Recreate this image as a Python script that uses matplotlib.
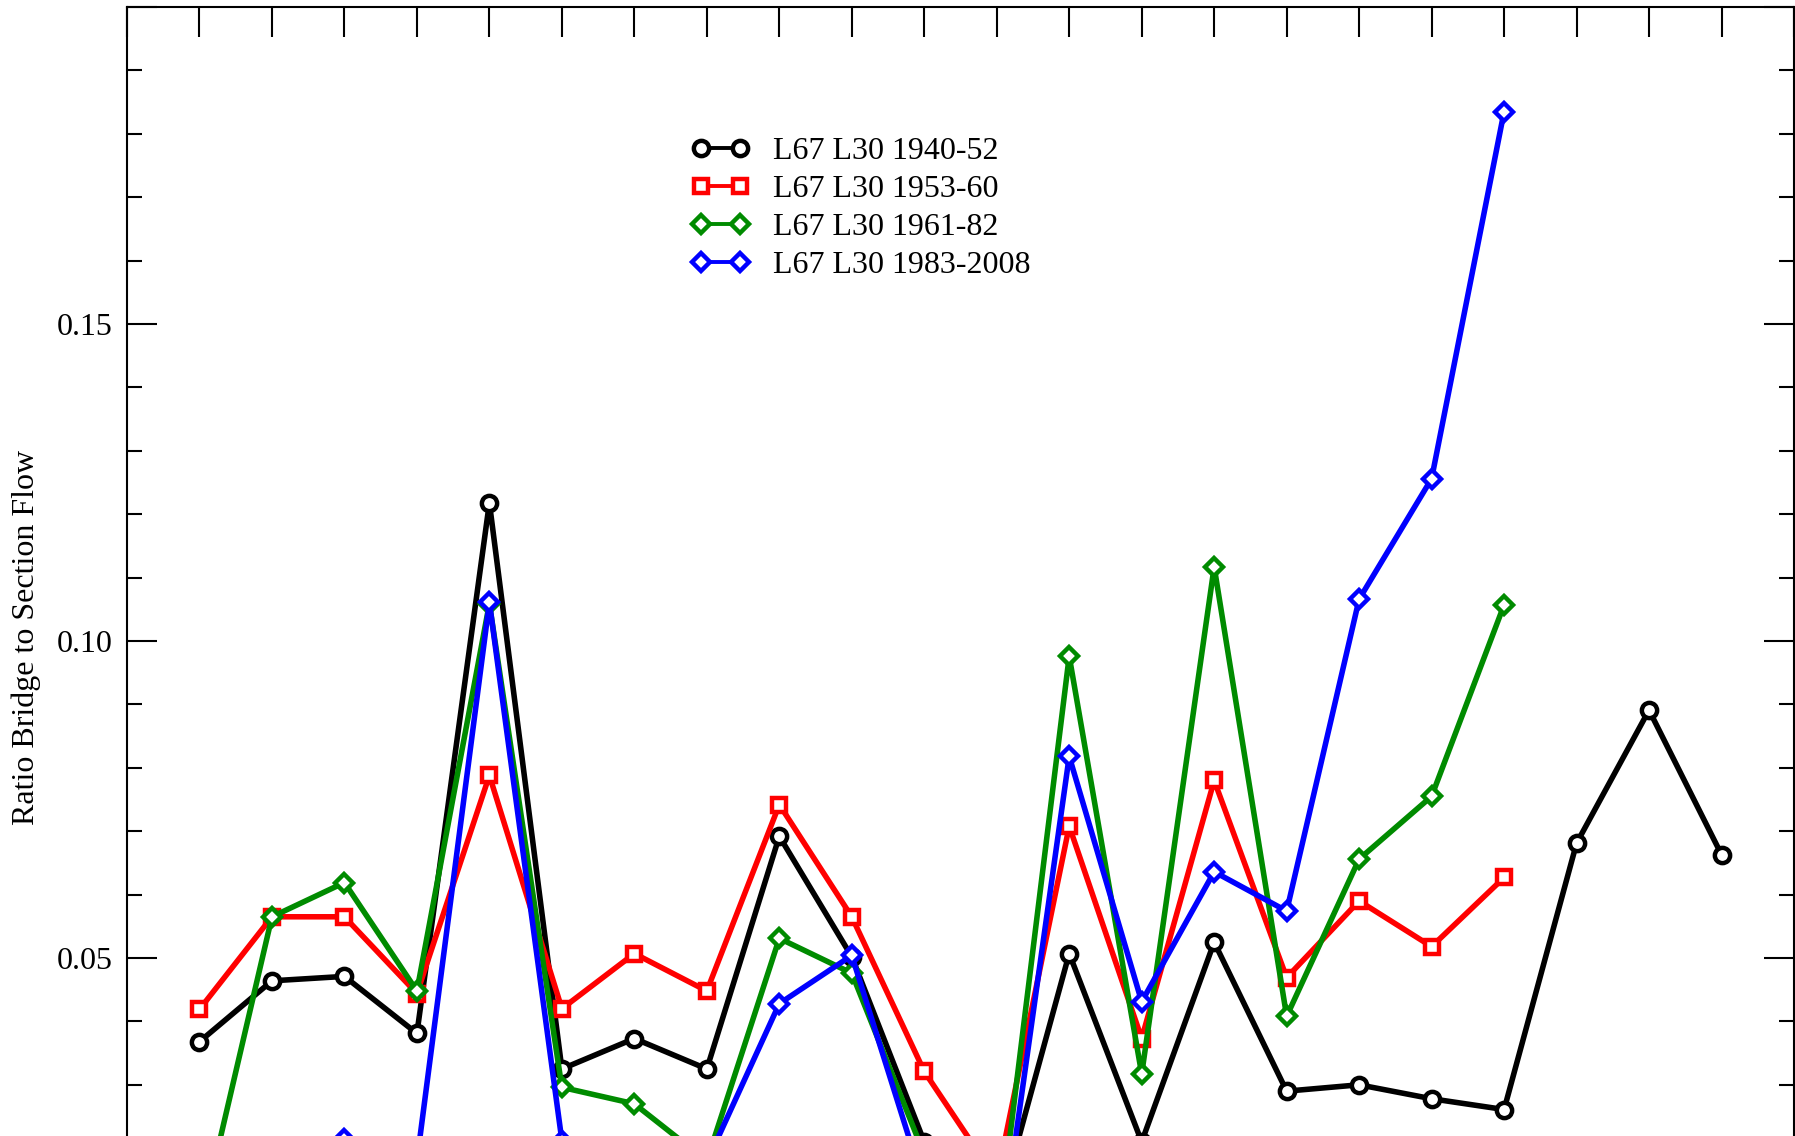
import matplotlib
matplotlib.use("Agg")
import matplotlib.pyplot as plt
from matplotlib.ticker import FixedLocator, MultipleLocator

plt.rcParams["font.family"] = ["Liberation Serif", "DejaVu Serif"]

# values (index = position along x)
x_black = list(range(1, 23))
black_1940_52 = [0.0368, 0.0464, 0.0471, 0.0381, 0.1218, 0.0325, 0.0373, 0.0325,
                 0.0692, 0.0502, 0.0210, 0.0090, 0.0507, 0.0210, 0.0525, 0.0290,
                 0.0300, 0.0278, 0.0261, 0.0681, 0.0891, 0.0663]

x_other = list(range(1, 20))
red_1953_60 = [0.0419, 0.0565, 0.0565, 0.0444, 0.0788, 0.0420, 0.0507, 0.0448,
               0.0742, 0.0565, 0.0321, 0.0150, 0.0708, 0.0373, 0.0780, 0.0469,
               0.0590, 0.0518, 0.0627]
green_1961_82 = [0.0075, 0.0565, 0.0619, 0.0448, 0.1059, 0.0296, 0.0270, 0.0180,
                 0.0531, 0.0476, 0.0190, 0.0050, 0.0976, 0.0317, 0.1117, 0.0408,
                 0.0656, 0.0755, 0.1057]
blue_1983_2008 = [0.0100, 0.0120, 0.0214, 0.0180, 0.1061, 0.0212, 0.0120, 0.0178,
                  0.0428, 0.0504, 0.0140, 0.0005, 0.0818, 0.0431, 0.0636, 0.0574,
                  0.1066, 0.1256, 0.1835]

series_labels = ["L67 L30 1940-52", "L67 L30 1953-60", "L67 L30 1961-82",
                 "L67 L30 1983-2008"]
y_major = [0.0, 0.05, 0.10, 0.15, 0.20]
y_major_labels = ["", "0.05", "0.10", "0.15", ""]

W, H = 1795, 1136
fig = plt.figure(figsize=(W / 100, H / 100), dpi=100)
# the reference is a crop: the axes run below the bottom of the picture
ax = fig.add_axes([127 / W, 1 - 1275 / H, 1667 / W, 1268 / H])

style = dict(lw=4, mew=3.2, mfc="white")
ax.plot(x_black, black_1940_52, color="black", marker="o", ms=11,
        label=series_labels[0], **style)
ax.plot(x_other, red_1953_60, color="#ff0000", marker="s", ms=10.5,
        label=series_labels[1], **style)
ax.plot(x_other, green_1961_82, color="#008b00", marker="D", ms=9,
        label=series_labels[2], **style)
ax.plot(x_other, blue_1983_2008, color="#0000ff", marker="D", ms=9,
        label=series_labels[3], **style)

ax.set_xlim(0, 23)
ax.set_ylim(0, 0.20)
ax.xaxis.set_major_locator(MultipleLocator(1))
ax.yaxis.set_major_locator(FixedLocator(y_major))
ax.set_yticklabels(y_major_labels)
ax.yaxis.set_minor_locator(MultipleLocator(0.01))

ax.tick_params(axis="both", which="both", direction="in", width=1.5,
               top=True, right=True, labelbottom=False)
ax.tick_params(axis="both", which="major", length=21.6)
ax.tick_params(axis="y", which="minor", length=10.8)
ax.tick_params(axis="y", which="major", labelsize=23, pad=10)
for sp in ax.spines.values():
    sp.set_linewidth(1.5)

fig.text(26 / W, 0.4388, "Ratio Bridge to Section Flow", rotation=90,
         ha="center", va="center", fontsize=23)

leg = ax.legend(loc="upper left", bbox_to_anchor=(691 / W, 1 - 137 / H),
                bbox_transform=fig.transFigure, frameon=False, fontsize=23,
                numpoints=2, handlelength=1.83, handletextpad=0.75,
                labelspacing=0.27, borderpad=0, borderaxespad=0)
for line in leg.get_lines():
    line.set_linewidth(2.8)

fig.savefig("out.png", dpi=100)
